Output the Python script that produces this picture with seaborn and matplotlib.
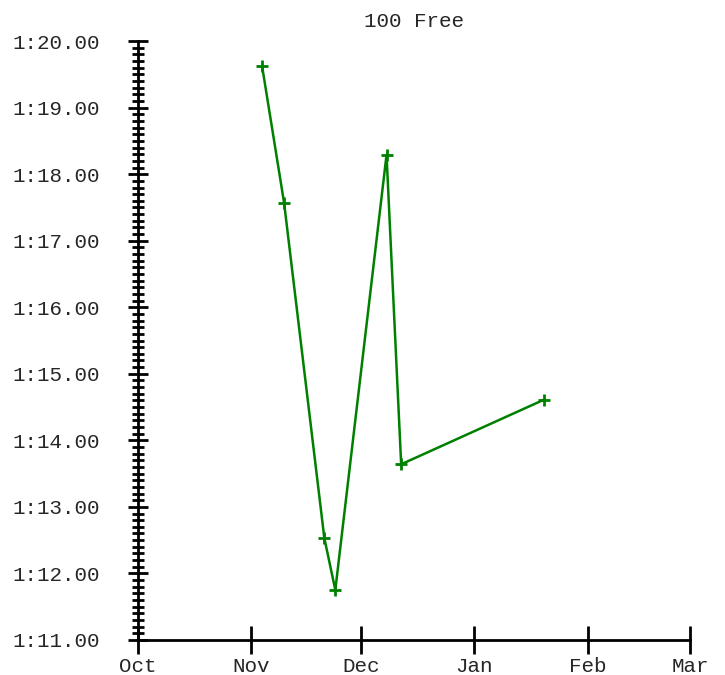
import pandas as pd
import matplotlib
matplotlib.use("Agg")
import matplotlib.pyplot as plt
import matplotlib.dates as mdates
from matplotlib.ticker import FuncFormatter, MultipleLocator
import seaborn as sns

# swim dates and 100 free times (seconds)
swim_dates = ["2018-11-04", "2018-11-10", "2018-11-21", "2018-11-24",
              "2018-12-08", "2018-12-12", "2019-01-20"]
swim_times = [79.62, 77.57, 72.53, 71.75, 78.29, 73.64, 74.61]
month_ticks = ["2018-10-01", "2018-11-01", "2018-12-01", "2019-01-01",
               "2019-02-01", "2019-03-01"]

df = pd.DataFrame({"date": pd.to_datetime(swim_dates), "time": swim_times})

sns.set_style("white")
plt.rcParams["font.family"] = ["Liberation Mono", "DejaVu Sans Mono"]

fig = plt.figure(figsize=(7.25, 6.75), dpi=100)
ax = fig.add_axes([0.19, 0.052, 0.762, 0.887])

sns.lineplot(data=df, x="date", y="time", ax=ax, color="green", linewidth=1.8,
             marker="+", markersize=9, markeredgewidth=2, markeredgecolor="green",
             sort=False)

ticks = pd.to_datetime(month_ticks)
ax.set_xlim(ticks[0], ticks[-1])
ax.set_xticks(ticks)
ax.xaxis.set_major_formatter(mdates.DateFormatter("%b"))
ax.set_ylim(71, 80)
ax.yaxis.set_major_locator(MultipleLocator(1))
ax.yaxis.set_minor_locator(MultipleLocator(0.1))
ax.yaxis.set_major_formatter(FuncFormatter(lambda v, p: f"{int(v // 60)}:{v % 60:05.2f}"))

for side in ["top", "right"]:
    ax.spines[side].set_visible(False)
for side in ["left", "bottom"]:
    ax.spines[side].set_linewidth(2)
    ax.spines[side].set_color("black")

ax.tick_params(axis="x", which="major", direction="inout", length=20, width=2,
               labelsize=15, pad=2, color="black", bottom=True)
ax.tick_params(axis="y", which="major", direction="inout", length=14, width=2,
               labelsize=15, pad=20, color="black", left=True)
ax.tick_params(axis="y", which="minor", direction="inout", length=9, width=2,
               color="black", left=True)
ax.set_xlabel("")
ax.set_ylabel("")
ax.set_title("100 Free", fontsize=15, pad=10)

fig.savefig("out.png", dpi=100)
